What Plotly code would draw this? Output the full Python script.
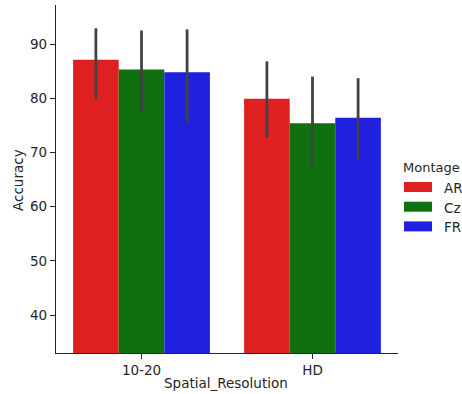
import plotly.graph_objects as go

categories = ["10-20", "HD"]
montages = ["AR", "Cz", "FR"]
colors = ["#df2020", "#107010", "#2020df"]
means = {
    "AR": [87.1, 79.9],
    "Cz": [85.3, 75.4],
    "FR": [84.8, 76.4],
}
ci_high = {
    "AR": [92.9, 86.8],
    "Cz": [92.5, 84.0],
    "FR": [92.7, 83.7],
}
ci_low = {
    "AR": [79.8, 72.7],
    "Cz": [77.4, 67.1],
    "FR": [75.5, 68.6],
}
y_ticks = [40, 50, 60, 70, 80, 90]

FONT = "DejaVu Sans"
TXT = "#262626"

fig = go.Figure()
for m, c in zip(montages, colors):
    fig.add_trace(go.Bar(
        x=categories, y=means[m], name=m,
        marker=dict(color=c, line=dict(width=0)),
        error_y=dict(
            type="data", symmetric=False,
            array=[h - v for h, v in zip(ci_high[m], means[m])],
            arrayminus=[v - l for l, v in zip(ci_low[m], means[m])],
            color="#424242", thickness=2.8, width=0,
        ),
        showlegend=False,
    ))

W, H = 462, 394
ml, mr, mt, mb = 56, 64, 5, 41
pw, ph = W - ml - mr, H - mt - mb


def px_x(x):
    return (x - ml) / pw


def px_y(y):
    return (H - mb - y) / ph


shapes = []
annotations = []
# axis titles
annotations.append(dict(
    text="Accuracy", x=px_x(18), y=px_y(180), xref="paper", yref="paper",
    xanchor="center", yanchor="middle", showarrow=False, textangle=-90,
    font=dict(family=FONT, size=13.5, color=TXT),
))
annotations.append(dict(
    text="Spatial_Resolution", x=px_x(226), y=px_y(383), xref="paper", yref="paper",
    xanchor="center", yanchor="middle", showarrow=False,
    font=dict(family=FONT, size=13.5, color=TXT),
))
# custom legend (matplotlib-like wide patches)
annotations.append(dict(
    text="Montage", x=px_x(401), y=px_y(167), xref="paper", yref="paper",
    xanchor="left", yanchor="middle", showarrow=False,
    font=dict(family=FONT, size=13, color=TXT),
))
for i, (m, c) in enumerate(zip(montages, colors)):
    cy = 187 + i * 19.7
    shapes.append(dict(
        type="rect", xref="paper", yref="paper",
        x0=px_x(404), x1=px_x(432), y0=px_y(cy - 5), y1=px_y(cy + 5),
        fillcolor=c, line=dict(width=0),
    ))
    annotations.append(dict(
        text=m, x=px_x(442), y=px_y(cy + 1), xref="paper", yref="paper",
        xanchor="left", yanchor="middle", showarrow=False,
        font=dict(family=FONT, size=13.5, color=TXT),
    ))

fig.update_layout(
    width=W, height=H,
    margin=dict(l=ml, r=mr, t=mt, b=mb, autoexpand=False),
    paper_bgcolor="white", plot_bgcolor="white",
    barmode="group", bargap=0.2, bargroupgap=0,
    font=dict(family=FONT, size=13.5, color=TXT),
    shapes=shapes, annotations=annotations,
    xaxis=dict(
        range=[-0.5, 1.5], showline=True, linecolor=TXT, linewidth=1.3,
        ticks="outside", ticklen=5, tickwidth=1.3, tickcolor=TXT,
        showgrid=False, zeroline=False, automargin=False,
    ),
    yaxis=dict(
        range=[33, 97.2], tickvals=y_ticks, showline=True, linecolor=TXT,
        linewidth=1.3, ticks="outside", ticklen=5, tickwidth=1.3,
        tickcolor=TXT, showgrid=False, zeroline=False, automargin=False,
    ),
)

fig.write_html(
    "out.html",
    config={"displayModeBar": False},
    post_script="document.body.style.margin='0';document.body.style.overflow='hidden';",
)
